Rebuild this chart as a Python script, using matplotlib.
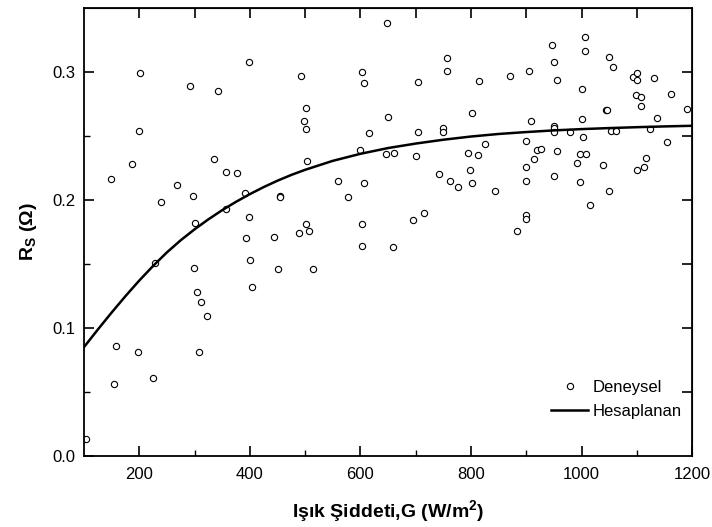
import matplotlib
matplotlib.use("Agg")
import matplotlib.pyplot as plt
from matplotlib.ticker import FixedLocator, FormatStrFormatter, NullFormatter

plt.rcParams['font.family'] = ['Liberation Sans', 'DejaVu Sans']
plt.rcParams['mathtext.fontset'] = 'custom'
plt.rcParams['mathtext.rm'] = 'Liberation Sans'
plt.rcParams['mathtext.bf'] = 'Liberation Sans:bold'

# measured points (Deneysel)
G_exp = [649, 399, 202, 492, 603, 606, 292, 342, 501, 498, 502, 650, 199, 616,
         186, 336, 356, 377, 149, 269, 503, 600, 647, 559, 606, 578, 392, 454,
         455, 298, 239, 356, 399, 300, 501, 602, 507, 489, 393, 443, 229, 299,
         401, 451, 515, 403, 304, 311, 322, 158, 198, 308, 225, 155, 103, 603,
         659, 660, 756, 756, 704, 814, 870, 905, 946, 950, 955, 1006, 1006, 1000,
         1049, 1057, 1093, 1101, 1100, 1132, 1099, 1108, 1107, 1162, 1190, 1136,
         1044, 1046, 802, 909, 1000, 704, 750, 750, 950, 951, 951, 980, 1053,
         1062, 1123, 1003, 1154, 826, 900, 920, 926, 955, 998, 1008, 700, 795,
         813, 914, 1116, 992, 1038, 900, 1113, 1100, 799, 742, 951, 762, 777,
         801, 900, 998, 844, 1050, 1015, 715, 695, 900, 900, 884]
Rs_exp = [0.338, 0.308, 0.299, 0.297, 0.300, 0.291, 0.289, 0.285, 0.272, 0.262,
          0.255, 0.265, 0.254, 0.252, 0.228, 0.232, 0.222, 0.221, 0.216, 0.212,
          0.230, 0.239, 0.236, 0.215, 0.213, 0.202, 0.205, 0.203, 0.202, 0.203,
          0.198, 0.193, 0.187, 0.182, 0.181, 0.181, 0.176, 0.174, 0.170, 0.171,
          0.151, 0.147, 0.153, 0.146, 0.146, 0.132, 0.128, 0.120, 0.109, 0.086,
          0.081, 0.081, 0.061, 0.056, 0.013, 0.164, 0.163, 0.237, 0.311, 0.301,
          0.292, 0.293, 0.297, 0.301, 0.321, 0.308, 0.294, 0.327, 0.316, 0.287,
          0.312, 0.304, 0.296, 0.299, 0.294, 0.295, 0.282, 0.280, 0.273, 0.283,
          0.271, 0.264, 0.270, 0.270, 0.268, 0.262, 0.263, 0.253, 0.256, 0.253,
          0.258, 0.256, 0.253, 0.253, 0.254, 0.254, 0.255, 0.249, 0.245, 0.244,
          0.246, 0.239, 0.240, 0.238, 0.236, 0.236, 0.234, 0.237, 0.235, 0.232,
          0.233, 0.229, 0.227, 0.226, 0.226, 0.223, 0.223, 0.220, 0.219, 0.215,
          0.210, 0.213, 0.215, 0.214, 0.207, 0.207, 0.196, 0.190, 0.184, 0.188,
          0.185, 0.176]

# calculated curve (Hesaplanan)
G_calc = [100, 125, 150, 175, 200, 225, 250, 275, 300, 325, 350, 375, 400, 425,
          450, 475, 500, 550, 600, 650, 700, 750, 800, 850, 900, 950, 1000,
          1050, 1100, 1150, 1200]
Rs_calc = [0.085, 0.0987, 0.112, 0.1248, 0.137, 0.1484, 0.159, 0.1685, 0.177,
           0.1848, 0.192, 0.1985, 0.2045, 0.2100, 0.215, 0.2195, 0.2235, 0.2305,
           0.236, 0.2405, 0.244, 0.247, 0.2495, 0.2515, 0.253, 0.2543, 0.2553,
           0.2561, 0.2568, 0.2574, 0.2579]

fig = plt.figure(figsize=(7.12, 5.27), dpi=100)
ax = fig.add_axes([0.118, 0.135, 0.854, 0.85])

ax.plot(G_exp, Rs_exp, linestyle='none', marker='o', markersize=4.5,
        markerfacecolor='white', markeredgecolor='black', markeredgewidth=0.8,
        label='Deneysel')
ax.plot(G_calc, Rs_calc, color='black', linewidth=1.8, label='Hesaplanan')

ax.set_xlim(100, 1200)
ax.set_ylim(0, 0.35)

ax.xaxis.set_major_locator(FixedLocator([200, 400, 600, 800, 1000, 1200]))
ax.xaxis.set_minor_locator(FixedLocator([300, 500, 700, 900, 1100]))
ax.yaxis.set_major_locator(FixedLocator([0.0, 0.1, 0.2, 0.3]))
ax.yaxis.set_minor_locator(FixedLocator([0.05, 0.15, 0.25]))
ax.yaxis.set_major_formatter(FormatStrFormatter('%.1f'))

ax.tick_params(which='major', direction='in', length=7, width=1.2, labelsize=12, pad=8)
ax.tick_params(which='minor', direction='in', length=4, width=1.0)
ax.tick_params(axis='y', which='major', pad=6)

for s in ax.spines.values():
    s.set_linewidth(1.3)

# ticks on top and right, as in the original
top = ax.secondary_xaxis('top')
top.xaxis.set_major_locator(FixedLocator(list(range(200, 1200, 100))))
top.xaxis.set_major_formatter(NullFormatter())
top.tick_params(direction='in', length=7, width=1.2)
right = ax.secondary_yaxis('right')
right.yaxis.set_major_locator(FixedLocator([0.05, 0.1, 0.15, 0.2, 0.25, 0.3]))
right.yaxis.set_major_formatter(NullFormatter())
right.tick_params(direction='in', length=7, width=1.2)

ax.set_xlabel(r'Işık Şiddeti,G (W/m$^\mathbf{2}$)', fontsize=14, fontweight='bold', labelpad=12)
ax.set_ylabel(r'$\mathbf{R}_\mathbf{S}$ (Ω)', fontsize=14, fontweight='bold', labelpad=10)

ax.legend(loc='lower right', frameon=False, fontsize=12, handlelength=2.2,
          handletextpad=0.3, borderaxespad=0.2, labelspacing=0.55,
          bbox_to_anchor=(1.0, 0.06))

fig.savefig('out.png', dpi=100)
